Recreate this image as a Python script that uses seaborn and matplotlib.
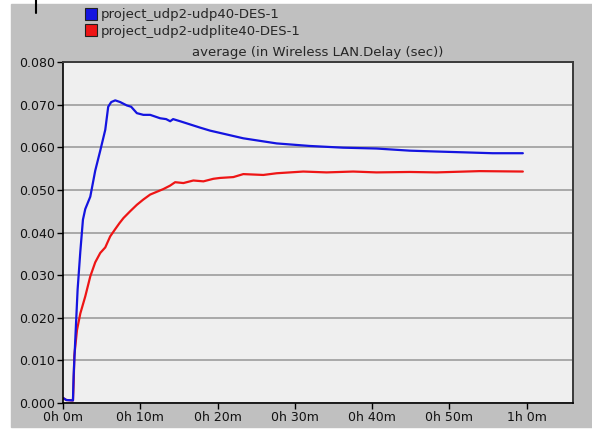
import pandas as pd
import matplotlib
matplotlib.use("Agg")
import matplotlib.pyplot as plt
from matplotlib.lines import Line2D
from matplotlib.patches import Rectangle
import seaborn as sns

# Valores (tempo em minutos, atraso em segundos)
udp_time = [0.08, 0.43, 1.29, 1.37, 1.59, 1.89, 2.24, 2.58, 2.88, 3.53, 4.17,
            4.82, 5.47, 5.85, 6.24, 6.76, 7.40, 8.27, 8.82, 9.56, 10.40, 11.28,
            12.57, 13.35, 13.87, 14.25, 15.16, 17.75, 19.03, 23.33, 27.65,
            31.95, 36.25, 40.57, 44.87, 48.32, 51.98, 55.59, 59.51]
udp_delay = [0.0011, 0.0007, 0.0006, 0.0062, 0.0149, 0.0266, 0.0355, 0.0430,
             0.0455, 0.0484, 0.0545, 0.0592, 0.0641, 0.0695, 0.0706, 0.0710,
             0.0706, 0.0698, 0.0695, 0.0680, 0.0676, 0.0676, 0.0668, 0.0666,
             0.0661, 0.0666, 0.0661, 0.0646, 0.0639, 0.0621, 0.0609, 0.0603,
             0.0599, 0.0597, 0.0592, 0.0590, 0.0588, 0.0586, 0.0586]

udplite_time = [0.08, 0.43, 1.29, 1.40, 1.46, 1.81, 2.24, 2.88, 3.53, 4.17,
                4.82, 5.47, 6.11, 6.76, 7.31, 7.83, 8.70, 9.56, 10.37, 11.28,
                13.00, 13.86, 14.51, 15.58, 16.87, 18.17, 19.46, 20.32, 22.04,
                23.33, 25.92, 27.65, 31.09, 34.11, 37.55, 40.57, 44.87, 48.32,
                53.91, 59.51]
udplite_delay = [0.0011, 0.0007, 0.0006, 0.0060, 0.0110, 0.0171, 0.0210,
                 0.0250, 0.0297, 0.0330, 0.0352, 0.0365, 0.0391, 0.0408,
                 0.0422, 0.0434, 0.0450, 0.0465, 0.0477, 0.0489, 0.0502,
                 0.0510, 0.0518, 0.0516, 0.0522, 0.0520, 0.0526, 0.0528,
                 0.0530, 0.0537, 0.0535, 0.0539, 0.0543, 0.0541, 0.0543,
                 0.0541, 0.0542, 0.0541, 0.0544, 0.0543]

run_names = ["project_udp2-udp40-DES-1", "project_udp2-udplite40-DES-1"]
run_colors = ["#1414e0", "#ee1515"]

x_ticks = [0, 10, 20, 30, 40, 50, 60]
x_labels = ["0h 0m", "0h 10m", "0h 20m", "0h 30m", "0h 40m", "0h 50m", "1h 0m"]
y_ticks = [0.0, 0.01, 0.02, 0.03, 0.04, 0.05, 0.06, 0.07, 0.08]


def main():
    sns.set_style("white")
    plt.rcParams["font.family"] = ["DejaVu Sans"]

    df = pd.concat([
        pd.DataFrame({"tempo": udplite_time, "atraso": udplite_delay, "run": run_names[1]}),
        pd.DataFrame({"tempo": udp_time, "atraso": udp_delay, "run": run_names[0]}),
    ])

    fig = plt.figure(figsize=(5.92, 4.34), dpi=100, facecolor="white")
    # fundo cinza da janela
    fig.patches.append(Rectangle((11 / 592, 7 / 434), 1, 1 - 11 / 434,
                                 transform=fig.transFigure, color="#c0c0c0",
                                 zorder=-10))
    fig.lines.append(Line2D([36 / 592, 36 / 592], [1, 1 - 13 / 434],
                            transform=fig.transFigure, color="black", lw=1.5))

    ax = fig.add_axes([63 / 592, 31 / 434, 510 / 592, 341 / 434])
    ax.set_facecolor("#efefef")

    sns.lineplot(data=df, x="tempo", y="atraso", hue="run",
                 hue_order=[run_names[1], run_names[0]],
                 palette=[run_colors[1], run_colors[0]],
                 sort=False, estimator=None, linewidth=1.6, legend=False, ax=ax)

    ax.set_xlim(0, 66)
    ax.set_ylim(0, 0.08)
    ax.set_xticks(x_ticks)
    ax.set_xticklabels(x_labels)
    ax.set_yticks(y_ticks)
    ax.set_yticklabels([f"{v:.3f}" for v in y_ticks])
    ax.set_xlabel("")
    ax.set_ylabel("")
    ax.yaxis.grid(True, color="#959595", linewidth=1.1)
    ax.xaxis.grid(False)
    ax.set_axisbelow(True)
    ax.tick_params(axis="both", which="major", length=4, width=1, color="black",
                   labelsize=9, labelcolor="#111111", pad=2, direction="out",
                   left=True, bottom=True)
    for side in ["left", "bottom"]:
        ax.spines[side].set_color("black")
        ax.spines[side].set_linewidth(1.2)
    for side in ["top", "right"]:
        ax.spines[side].set_color("#3a3a3a")
        ax.spines[side].set_linewidth(1.4)

    ax.set_title("average (in Wireless LAN.Delay (sec))", fontsize=9.5, pad=4)

    handles = [Line2D([], [], marker="s", linestyle="none", markersize=8,
                      markerfacecolor=c, markeredgecolor="#202020", markeredgewidth=0.8)
               for c in run_colors]
    fig.legend(handles, run_names, loc="upper left",
               bbox_to_anchor=(76 / 592, 1 + 1 / 434), frameon=False,
               fontsize=9.5, handlelength=0.8, handletextpad=0.4,
               labelspacing=0.25, borderpad=0.2)

    fig.savefig("out.png", dpi=100, facecolor="white")


if __name__ == "__main__":
    main()
